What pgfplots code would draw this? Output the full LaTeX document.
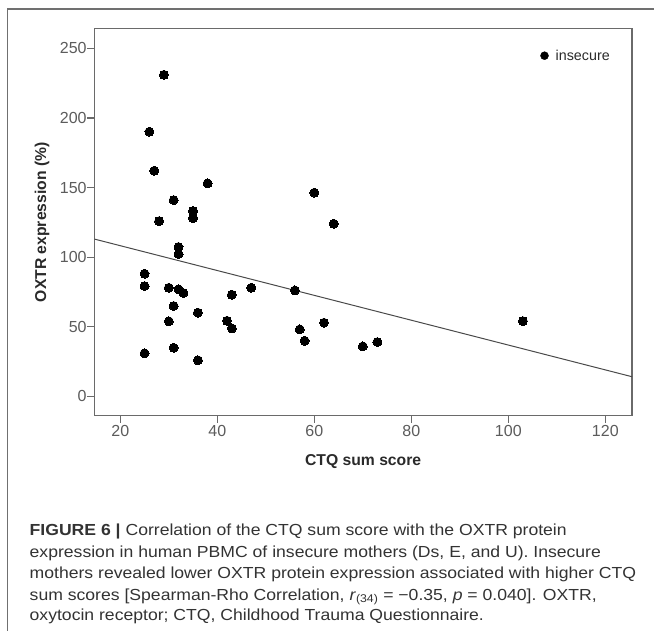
\documentclass[border=0pt]{standalone}
\usepackage{pgfplots}
\pgfplotsset{compat=1.18}
\usepackage{fontspec}
\setmainfont{Liberation Sans}
\newfontfamily\capfont[FakeStretch=1.1]{Liberation Sans}
\definecolor{framegray}{HTML}{707070}
\definecolor{axgray}{HTML}{6A6A6A}
\definecolor{lblgray}{HTML}{5C5C5C}
\definecolor{labgray}{HTML}{2A2A2A}
\definecolor{linegray}{HTML}{4A4A4A}
\definecolor{capgray}{HTML}{333333}
\begin{document}
\begin{tikzpicture}
\useasboundingbox (0bp,0bp) rectangle (654bp,631bp);
\fill[white] (0bp,0bp) rectangle (654bp,631bp);
\draw[framegray, line width=1.3bp] (7.3bp,0bp) -- (7.3bp,622bp) -- (655bp,622bp);
\begin{axis}[
  at={(94.3bp,215.3bp)}, anchor=south west,
  scale only axis, width=537.7bp, height=387bp,
  xmin=14.64, xmax=125.5, ymin=-13.9, ymax=264.1,
  xtick={20,40,...,120}, ytick={0,50,...,250},
  tick align=outside, xtick pos=left, ytick pos=left,
  major tick length=7bp,
  axis line style={draw=axgray, line width=1.2bp},
  every tick/.style={draw=axgray, line width=1.2bp},
  ticklabel style={font=\fontsize{16bp}{19bp}\selectfont, text=lblgray},
  /pgf/number format/assume math mode=true,
  yticklabel style={inner sep=0.5bp},
  xticklabel style={inner sep=2bp},
  xlabel={CTQ sum score}, ylabel={OXTR expression (\%)},
  label style={font=\bfseries\fontsize{15.7bp}{18bp}\selectfont, text=labgray},
  xlabel style={at={(axis description cs:0.5,-0.1189)}, anchor=center},
  ylabel style={at={(axis description cs:-0.0973,0.5)}, anchor=center},
  legend style={at={(axis description cs:0.8295,0.9302)}, anchor=west, draw=none, fill=none,
    inner sep=0pt, outer sep=0pt, font=\fontsize{14.3bp}{16bp}\selectfont, text=labgray,
    /tikz/every odd column/.append style={column sep=5bp}},
  legend cell align=left,
  legend image code/.code={\fill[black] (0bp,0bp) circle (4bp);},
]
\addplot[forget plot, draw=linegray, line width=1bp] coordinates {(14.64,113.0) (125.5,14.1)};
\addplot[only marks, mark=*, mark size=4.5bp, mark options={fill=black, draw=black, line width=0pt}] table {
x y
29 231.0
26 190.1
27 162.1
38 153.0
31 141.0
35 133.1
35 128.1
28 125.9
32 107.3
32 102.2
25 88.1
25 79.2
30 78.0
32 76.9
33 74.2
43 73.0
47 78.0
56 76.1
60 146.3
64 124.0
31 64.9
36 60.1
30 53.9
42 54.3
43 48.8
25 30.9
31 34.9
36 25.9
57 48.1
58 39.9
62 52.9
70 35.9
73 39.0
103 54.1
};
\addlegendentry{insecure}
\end{axis}
\begin{scope}[every node/.style={anchor=base west, inner sep=0pt, text=capgray, font=\capfont\fontsize{16bp}{21bp}\selectfont}]
\node at (29.5bp,95bp) {\textbf{FIGURE 6 |} Correlation of the CTQ sum score with the OXTR protein};
\node at (29.5bp,73.3bp) {expression in human PBMC of insecure mothers (Ds, E, and U). Insecure};
\node at (29.5bp,52bp) {mothers revealed lower OXTR protein expression associated with higher CTQ};
\node at (29.5bp,31bp) {sum scores [Spearman-Rho Correlation, \textit{r}\textsubscript{(34)} = −0.35, \textit{p} = 0.040]. OXTR,};
\node at (29.5bp,11bp) {oxytocin receptor; CTQ, Childhood Trauma Questionnaire.};
\end{scope}
\end{tikzpicture}
\end{document}
